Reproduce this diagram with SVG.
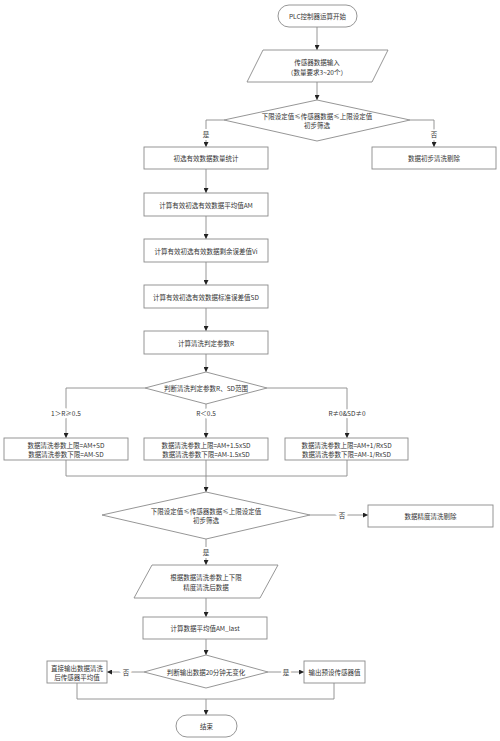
<svg xmlns="http://www.w3.org/2000/svg" width="500" height="741" viewBox="0 0 500 741">
<defs>
<marker id="arr" viewBox="0 0 10 10" refX="10" refY="5" markerWidth="5" markerHeight="5" orient="auto" markerUnits="userSpaceOnUse">
<path d="M0,0 L10,5 L0,10 z" fill="#222"/>
</marker>
<style>
.n{fill:#fff;stroke:#8a8a8a;stroke-width:0.9}
.t{font-family:"Noto Sans CJK SC","Noto Sans",sans-serif;font-size:6.5px;fill:#333;text-anchor:middle;dominant-baseline:central}
.c{fill:none;stroke:#8a8a8a;stroke-width:0.9}
.a{marker-end:url(#arr)}
.lb{font-family:"Noto Sans CJK SC","Noto Sans",sans-serif;font-size:6.5px;fill:#333;text-anchor:middle;dominant-baseline:central;stroke:#fff;stroke-width:4;paint-order:stroke}
</style>
</defs>
<rect width="500" height="741" fill="#fff"/>
<g id="connectors">
<path class="c a" d="M317,27 V50"/>
<path class="c a" d="M317,82 V100"/>
<path class="c a" d="M224,120 H206 V147"/>
<path class="c a" d="M410,120 H434 V147"/>
<path class="c a" d="M206,169 V193"/>
<path class="c a" d="M206,216 V239"/>
<path class="c a" d="M206,262 V285"/>
<path class="c a" d="M206,308 V331"/>
<path class="c a" d="M206,354 V372"/>
<path class="c a" d="M145,388 H66 V438"/>
<path class="c a" d="M206,404 V438"/>
<path class="c a" d="M267,388 H347 V438"/>
<path class="c" d="M66,460 V476 H347 V460"/>
<path class="c a" d="M206,460 V492"/>
<path class="c a" d="M310,515 H368"/>
<path class="c a" d="M206,539 V565"/>
<path class="c a" d="M206,598 V617"/>
<path class="c a" d="M206,639 V655"/>
<path class="c a" d="M144,672 H107"/>
<path class="c a" d="M268,672 H304"/>
<path class="c" d="M77,683 V699 H334 V683"/>
<path class="c a" d="M206,699 V715"/>
<text class="lb" x="206" y="134">是</text>
<text class="lb" x="434" y="134">否</text>
<text class="lb" x="66" y="413">1＞R≥0.5</text>
<text class="lb" x="206" y="413">R＜0.5</text>
<text class="lb" x="347" y="413">R≠0&amp;SD≠0</text>
<text class="lb" x="342" y="515">否</text>
<text class="lb" x="206" y="552">是</text>
<text class="lb" x="126" y="672">否</text>
<text class="lb" x="286" y="672">是</text>
</g>
<g id="start"><rect class="n" x="278" y="5" width="79" height="22" rx="11"/><text class="t" x="317.5" y="16">PLC控制器运算开始</text></g>
<g id="input"><polygon class="n" points="263,50 388,50 372,82 247,82"/><text class="t" x="317" y="62">传感器数据输入</text><text class="t" x="317" y="72">（数量要求3~20个）</text></g>
<g id="d1"><polygon class="n" points="317,100 410,120 317,141 224,120"/><text class="t" x="317" y="116">下限设定值≤传感器数据≤上限设定值</text><text class="t" x="317" y="125">初步筛选</text></g>
<g id="b1"><rect class="n" x="144" y="147" width="124" height="22"/><text class="t" x="206" y="158">初选有效数据数量统计</text></g>
<g id="r1"><rect class="n" x="372" y="147" width="124" height="22"/><text class="t" x="434" y="158">数据初步清洗剔除</text></g>
<g id="b2"><rect class="n" x="144" y="193" width="124" height="23"/><text class="t" x="206" y="204.5">计算有效初选有效数据平均值AM</text></g>
<g id="b3"><rect class="n" x="144" y="239" width="124" height="23"/><text class="t" x="206" y="250.5">计算有效初选有效数据剩余误差值Vi</text></g>
<g id="b4"><rect class="n" x="144" y="285" width="124" height="23"/><text class="t" x="206" y="296.5">计算有效初选有效数据标准误差值SD</text></g>
<g id="b5"><rect class="n" x="144" y="331" width="124" height="23"/><text class="t" x="206" y="342.5">计算清洗判定参数R</text></g>
<g id="d2"><polygon class="n" points="206,372 267,388 206,404 145,388"/><text class="t" x="206" y="388">判断清洗判定参数R、SD范围</text></g>
<g id="c1"><rect class="n" x="4" y="438" width="124" height="22"/><text class="t" x="66" y="444.5">数据清洗参数上限=AM+SD</text><text class="t" x="66" y="453.5">数据清洗参数下限=AM-SD</text></g>
<g id="c2"><rect class="n" x="144" y="438" width="124" height="22"/><text class="t" x="206" y="444.5">数据清洗参数上限=AM+1.5xSD</text><text class="t" x="206" y="453.5">数据清洗参数下限=AM-1.5xSD</text></g>
<g id="c3"><rect class="n" x="285" y="438" width="123" height="22"/><text class="t" x="346.5" y="444.5">数据清洗参数上限=AM+1/RxSD</text><text class="t" x="346.5" y="453.5">数据清洗参数下限=AM-1/RxSD</text></g>
<g id="d3"><polygon class="n" points="206,492 310,515 206,539 102,515"/><text class="t" x="206" y="511">下限设定值≤传感器数据≤上限设定值</text><text class="t" x="206" y="520">初步筛选</text></g>
<g id="r2"><rect class="n" x="368" y="505" width="125" height="22"/><text class="t" x="430.5" y="516">数据精度清洗剔除</text></g>
<g id="p2"><polygon class="n" points="152,565 278,565 260,598 134,598"/><text class="t" x="206" y="577">根据数据清洗参数上下限</text><text class="t" x="206" y="587">精度清洗后数据</text></g>
<g id="b6"><rect class="n" x="143" y="617" width="124" height="22"/><text class="t" x="205" y="628">计算数据平均值AM_last</text></g>
<g id="d4"><polygon class="n" points="206,655 268,672 206,688 144,672"/><text class="t" x="206" y="672">判断输出数据20分钟无变化</text></g>
<g id="o1"><rect class="n" x="47" y="661" width="60" height="22"/><text class="t" x="77" y="667.5">直接输出数据清洗</text><text class="t" x="77" y="676.5">后传感器平均值</text></g>
<g id="o2"><rect class="n" x="304" y="661" width="61" height="22"/><text class="t" x="334.5" y="672">输出预设传感器值</text></g>
<g id="end"><rect class="n" x="176" y="715" width="61" height="22" rx="11"/><text class="t" x="206.5" y="726">结束</text></g>
</svg>
